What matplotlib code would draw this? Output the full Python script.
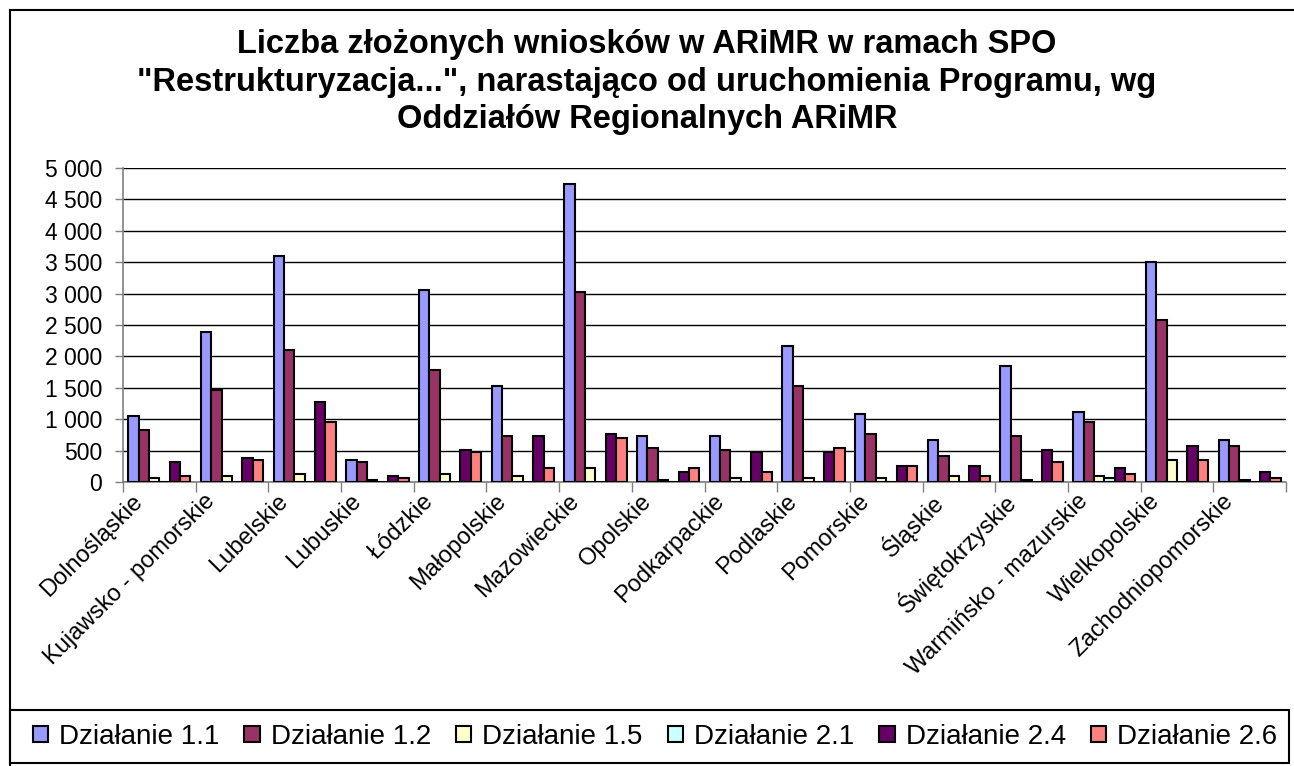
import matplotlib
matplotlib.use("Agg")
import matplotlib.pyplot as plt
import numpy as np
from matplotlib.patches import Rectangle
from matplotlib.lines import Line2D
from matplotlib.ticker import FuncFormatter, MultipleLocator
from matplotlib.transforms import ScaledTranslation

plt.rcParams["font.family"] = ["Liberation Sans", "DejaVu Sans"]

regions = ["Dolnośląskie", "Kujawsko - pomorskie", "Lubelskie", "Lubuskie",
           "Łódzkie", "Małopolskie", "Mazowieckie", "Opolskie", "Podkarpackie",
           "Podlaskie", "Pomorskie", "Śląskie", "Świętokrzyskie",
           "Warmińsko - mazurskie", "Wielkopolskie", "Zachodniopomorskie"]

series_names = ["Działanie 1.1", "Działanie 1.2", "Działanie 1.5",
                "Działanie 2.1", "Działanie 2.4", "Działanie 2.6"]

dz_1_1 = [1055, 2395, 3605, 355, 3065, 1530, 4750, 740, 740, 2170, 1090, 675, 1850, 1120, 3510, 675]
dz_1_2 = [825, 1470, 2105, 320, 1790, 740, 3030, 545, 515, 1530, 770, 420, 740, 960, 2585, 580]
dz_1_5 = [60, 100, 130, 35, 130, 100, 225, 35, 65, 65, 65, 100, 35, 100, 355, 35]
dz_2_1 = [0, 0, 0, 0, 0, 0, 0, 0, 0, 0, 0, 0, 0, 65, 0, 0]
dz_2_4 = [320, 385, 1280, 100, 515, 740, 770, 165, 485, 485, 260, 260, 515, 230, 580, 165]
dz_2_6 = [100, 355, 960, 65, 485, 230, 705, 230, 165, 545, 260, 100, 325, 130, 355, 65]

colors = ["#9999FF", "#993366", "#FFFFCC", "#CCFFFF", "#660066", "#FF8080"]

W, H = 1294, 766
fig = plt.figure(figsize=(W / 100, H / 100), dpi=100)

# plot area in pixel coordinates
left, right, top, bottom = 123, 1286, 168, 482
ax = fig.add_axes([left / W, 1 - bottom / H, (right - left) / W, (bottom - top) / H])

all_series = [dz_1_1, dz_1_2, dz_1_5, dz_2_1, dz_2_4, dz_2_6]
n = len(all_series)
bw = 1.0 / (n + 1)
x = np.arange(len(regions)) + 0.5
for i, (vals, col) in enumerate(zip(all_series, colors)):
    ax.bar(x + (i - (n - 1) / 2) * bw, vals, width=bw, color=col,
           edgecolor="black", linewidth=1.5, zorder=3)

ax.set_xlim(0, len(regions))
ax.set_ylim(0, 5000)
ax.yaxis.set_major_locator(MultipleLocator(500))
ax.yaxis.set_major_formatter(FuncFormatter(lambda v, p: f"{int(v):,}".replace(",", " ")))
ax.yaxis.grid(True, color="black", linewidth=1.0, zorder=0)
ax.set_axisbelow(True)

ax.set_xticks(np.arange(len(regions) + 1))
ax.set_xticklabels([])
ax.tick_params(axis="x", direction="out", length=7, width=1, color="#808080")
ax.tick_params(axis="y", direction="out", length=6, width=1, color="#808080",
               labelsize=16.5, pad=9)

for s in ["top", "right"]:
    ax.spines[s].set_visible(False)
for s in ["left", "bottom"]:
    ax.spines[s].set_color("#808080")
    ax.spines[s].set_linewidth(1.2)

# rotated region labels
off = ScaledTranslation(-20 / 100, -16 / 100, fig.dpi_scale_trans)
for xi, name in zip(x, regions):
    ax.text(xi, 0, name, transform=ax.get_xaxis_transform() + off,
            rotation=45, rotation_mode="anchor", ha="right", va="center",
            fontsize=17)

fig.text(0.5, 1 - 82 / H,
         "Liczba złożonych wniosków w ARiMR w ramach SPO\n"
         "\"Restrukturyzacja...\", narastająco od uruchomienia Programu, wg\n"
         "Oddziałów Regionalnych ARiMR",
         ha="center", va="center", fontsize=23.5, fontweight="bold",
         linespacing=1.28)

# outer chart frame and legend frame
fig.add_artist(Line2D([10 / W, 10 / W], [0, 1 - 10 / H], color="black", lw=1.5,
                      transform=fig.transFigure))
fig.add_artist(Line2D([10 / W, 1], [1 - 10 / H, 1 - 10 / H], color="black", lw=1.5,
                      transform=fig.transFigure))
fig.add_artist(Rectangle((10 / W, 1 - 763 / H), (1289 - 10) / W, (763 - 710) / H,
                         fill=False, edgecolor="black", lw=1.5,
                         transform=fig.transFigure))

handles = [Rectangle((0, 0), 1, 1, facecolor=c, edgecolor="black", lw=1.5)
           for c in colors]
fig.legend(handles, series_names, loc="center", bbox_to_anchor=(655 / W, 1 - 737 / H),
           ncol=6, frameon=False, fontsize=20, handlelength=0.55, handleheight=0.5,
           handletextpad=0.4, columnspacing=0.9, borderpad=0)

fig.savefig("out.png", dpi=100)
